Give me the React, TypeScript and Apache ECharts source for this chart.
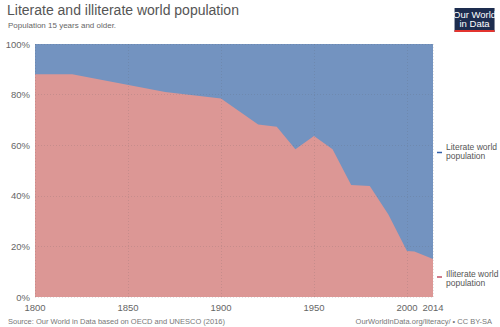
import React, { useEffect, useRef } from "react";
import * as echarts from "echarts";

const years = [1800, 1820, 1870, 1900, 1920, 1930, 1940, 1950, 1960, 1970, 1980, 1990, 2000, 2004, 2014];
const illiterate = [88, 88, 81, 78.5, 68.2, 67.3, 58.4, 63.6, 58.4, 44.3, 43.9, 32.6, 18.2, 18, 15];
const literate = [12, 12, 19, 21.5, 31.8, 32.7, 41.6, 36.4, 41.6, 55.7, 56.1, 67.4, 81.8, 82, 85];
const seriesNames = ["Illiterate world population", "Literate world population"];

const FONT = "'Liberation Sans', Arial, sans-serif";

export default function App() {
  const ref = useRef<HTMLDivElement>(null);
  useEffect(() => {
    if (!ref.current) return;
    const chart = echarts.init(ref.current, null, { renderer: "svg" });
    const illData = years.map((y, i) => [y, illiterate[i]]);
    // literate band sits on top of illiterate: top edge = illiterate + literate
    const totData = years.map((y, i) => [y, illiterate[i] + literate[i]]);
    const grid = { color: "rgba(90,90,90,0.16)", type: [1, 2] as any, width: 1 };
    chart.setOption({
      animation: false,
      textStyle: { fontFamily: FONT },
      grid: { left: 35, right: 67, top: 44, bottom: 30, containLabel: false },
      xAxis: {
        type: "value",
        min: 1800,
        max: 2014,
        interval: 50,
        z: 5,
        axisLine: { show: false },
        axisTick: { show: false },
        axisLabel: { color: "#666", fontSize: 9.5, margin: 5, fontFamily: FONT, formatter: (v: number) => String(v) },
        splitLine: { show: true, lineStyle: grid },
      },
      yAxis: {
        type: "value",
        min: 0,
        max: 100,
        interval: 20,
        z: 5,
        axisLine: { show: false },
        axisTick: { show: false },
        axisLabel: { color: "#666", fontSize: 9.5, margin: 5, formatter: "{value}%", fontFamily: FONT },
        splitLine: { show: true, lineStyle: grid },
      },
      series: [
        {
          name: seriesNames[1],
          type: "line",
          data: totData,
          symbol: "none",
          z: 1,
          lineStyle: { width: 0 },
          areaStyle: { color: "#7393c0", opacity: 1 },
        },
        {
          name: seriesNames[0],
          type: "line",
          data: illData,
          symbol: "none",
          z: 2,
          lineStyle: { width: 0 },
          areaStyle: { color: "#dc9795", opacity: 1 },
        },
      ],
      graphic: [
        {
          type: "text",
          left: 7,
          top: 3,
          style: { text: "Literate and illiterate world population", font: `14px ${FONT}`, fill: "#555" },
        },
        {
          type: "text",
          left: 8,
          top: 21,
          style: { text: "Population 15 years and older.", font: `8px ${FONT}`, fill: "#666" },
        },
        {
          type: "group",
          left: 453,
          top: 8,
          children: [
            { type: "rect", shape: { x: 0, y: 0, width: 40, height: 24 }, style: { fill: "#1d2d4f" } },
            { type: "rect", shape: { x: 0, y: 22, width: 40, height: 2 }, style: { fill: "#e3342f" } },
            {
              type: "text",
              x: 20,
              y: 1.5,
              style: { text: "Our World\nin Data", font: `9.5px ${FONT}`, fill: "#fff", align: "center", lineHeight: 9.5 },
            },
          ],
        },
        { type: "line", shape: { x1: 437, y1: 152.5, x2: 442, y2: 152.5 }, style: { stroke: "#3360a9", lineWidth: 1.5 } },
        {
          type: "text",
          x: 446,
          y: 142.5,
          style: { text: "Literate world\npopulation", font: `8.5px ${FONT}`, fill: "#555", lineHeight: 9 },
        },
        { type: "line", shape: { x1: 437, y1: 277, x2: 442, y2: 277 }, style: { stroke: "#c15065", lineWidth: 1.5 } },
        {
          type: "text",
          x: 446,
          y: 269,
          style: { text: "Illiterate world\npopulation", font: `8.5px ${FONT}`, fill: "#555", lineHeight: 9 },
        },
        {
          type: "text",
          left: 8,
          top: 317,
          style: { text: "Source: Our World in Data based on OECD and UNESCO (2016)", font: `7.5px ${FONT}`, fill: "#777" },
        },
        {
          type: "text",
          right: 8,
          top: 317,
          style: { text: "OurWorldInData.org/literacy/ • CC BY-SA", font: `7.5px ${FONT}`, fill: "#777" },
        },
      ],
    });
    return () => chart.dispose();
  }, []);
  return <div ref={ref} style={{ width: 500, height: 327, position: "absolute", left: 0, top: 0, background: "#fff" }} />;
}
